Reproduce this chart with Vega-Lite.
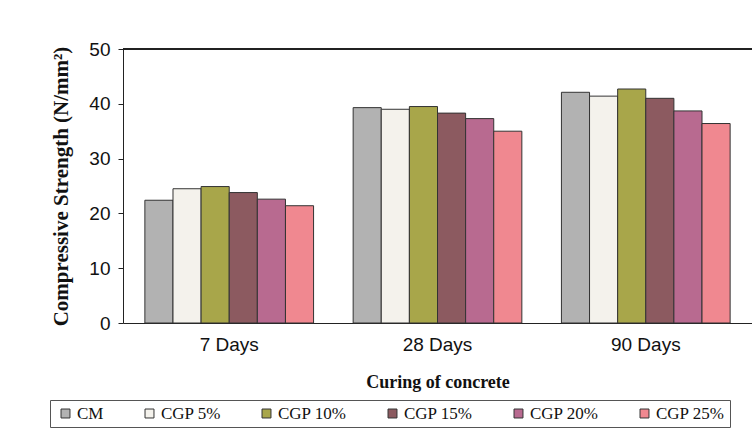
{
  "$schema": "https://vega.github.io/schema/vega-lite/v6.json",
  "width": 629,
  "height": 274,
  "autosize": {"type": "none"},
  "padding": {"left": 123, "top": 49, "right": 0, "bottom": 112},
  "background": "white",
  "config": {"view": {"stroke": null}},
  "data": {"values": [
    {"age": "7 Days", "mix": "CM", "value": 22.4},
    {"age": "7 Days", "mix": "CGP 5%", "value": 24.5},
    {"age": "7 Days", "mix": "CGP 10%", "value": 24.9},
    {"age": "7 Days", "mix": "CGP 15%", "value": 23.8},
    {"age": "7 Days", "mix": "CGP 20%", "value": 22.6},
    {"age": "7 Days", "mix": "CGP 25%", "value": 21.4},
    {"age": "28 Days", "mix": "CM", "value": 39.3},
    {"age": "28 Days", "mix": "CGP 5%", "value": 39.0},
    {"age": "28 Days", "mix": "CGP 10%", "value": 39.5},
    {"age": "28 Days", "mix": "CGP 15%", "value": 38.3},
    {"age": "28 Days", "mix": "CGP 20%", "value": 37.3},
    {"age": "28 Days", "mix": "CGP 25%", "value": 35.0},
    {"age": "90 Days", "mix": "CM", "value": 42.1},
    {"age": "90 Days", "mix": "CGP 5%", "value": 41.4},
    {"age": "90 Days", "mix": "CGP 10%", "value": 42.7},
    {"age": "90 Days", "mix": "CGP 15%", "value": 41.0},
    {"age": "90 Days", "mix": "CGP 20%", "value": 38.7},
    {"age": "90 Days", "mix": "CGP 25%", "value": 36.4}
  ]},
  "layer": [
    {
      "mark": {"type": "bar", "stroke": "#333333", "strokeWidth": 1},
      "encoding": {
        "x": {
          "field": "age", "type": "nominal", "sort": ["7 Days", "28 Days", "90 Days"],
          "scale": {"paddingInner": 0.19, "paddingOuter": 0.105},
          "axis": {
            "title": "Curing of concrete", "labelAngle": 0, "ticks": false,
            "labelFont": "Liberation Sans", "labelFontSize": 19, "labelColor": "#111",
            "labelPadding": 12, "domainColor": "#222",
            "titleFont": "Liberation Serif", "titleFontSize": 18, "titleFontWeight": "bold",
            "titleColor": "#111", "titlePadding": 19
          }
        },
        "xOffset": {"field": "mix", "type": "nominal", "sort": ["CM", "CGP 5%", "CGP 10%", "CGP 15%", "CGP 20%", "CGP 25%"]},
        "y": {
          "field": "value", "type": "quantitative",
          "scale": {"domain": [0, 50]},
          "axis": {
            "title": "Compressive Strength (N/mm²)", "values": [0, 10, 20, 30, 40, 50],
            "grid": false, "tickSize": 5, "tickColor": "#222", "domainColor": "#222",
            "labelFont": "Liberation Sans", "labelFontSize": 19, "labelColor": "#111", "labelPadding": 8,
            "titleFont": "Liberation Serif", "titleFontSize": 21, "titleFontWeight": "bold",
            "titleColor": "#111", "titlePadding": 17
          }
        },
        "fill": {
          "field": "mix", "type": "nominal",
          "sort": ["CM", "CGP 5%", "CGP 10%", "CGP 15%", "CGP 20%", "CGP 25%"],
          "scale": {
            "domain": ["CM", "CGP 5%", "CGP 10%", "CGP 15%", "CGP 20%", "CGP 25%"],
            "range": ["#b2b2b2", "#f4f2ec", "#a8a64a", "#8c5a60", "#b86a90", "#f08890"]
          },
          "legend": {
            "title": null, "orient": "none", "legendX": -73, "legendY": 351,
            "direction": "horizontal", "columns": 6, "gridAlign": "none",
            "columnPadding": 35, "symbolType": "square", "symbolSize": 80,
            "symbolStrokeColor": "#333", "symbolStrokeWidth": 1, "symbolOffset": 2,
            "labelFont": "Liberation Serif", "labelFontSize": 17, "labelColor": "#111",
            "labelOffset": 3, "strokeColor": "#555", "padding": 5, "fillColor": "white"
          }
        }
      }
    },
    {
      "mark": {"type": "rule", "color": "#222", "strokeWidth": 1.5},
      "encoding": {"y": {"datum": 50}}
    }
  ]
}
